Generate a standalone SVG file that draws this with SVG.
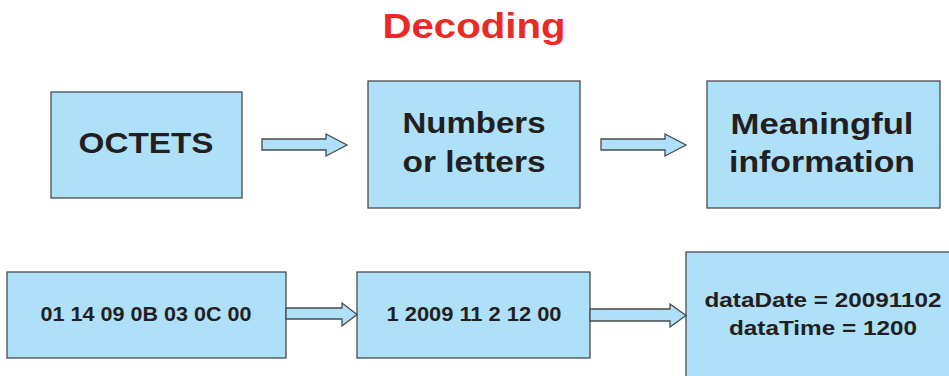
<svg xmlns="http://www.w3.org/2000/svg" width="949" height="376" viewBox="0 0 949 376">
<style>
.box{fill:#aee0f9;stroke:#4a4a4a;stroke-width:1.3}
.arr{fill:#aee0f9;stroke:#4a4a4a;stroke-width:1.3;stroke-linejoin:miter}
.t{font-family:"Liberation Sans",Arial,sans-serif;font-weight:bold;fill:#231f20;text-anchor:middle}
.big{font-size:30px}
.sm{font-size:21px}
.title{font-family:"Liberation Sans",Arial,sans-serif;font-weight:bold;font-size:35px;fill:#ea2a26;text-anchor:middle}
</style>
<rect width="949" height="376" fill="#ffffff"/>
<text class="title" x="474" y="38" textLength="183" lengthAdjust="spacingAndGlyphs">Decoding</text>
<g id="octets">
<rect class="box" x="51" y="92" width="191" height="106"/>
<text class="t big" x="146" y="153" textLength="135" lengthAdjust="spacingAndGlyphs">OCTETS</text>
</g>
<g id="numbers">
<rect class="box" x="368" y="81" width="212" height="127"/>
<text class="t big" x="474" y="133" textLength="143" lengthAdjust="spacingAndGlyphs">Numbers</text>
<text class="t big" x="474" y="172" textLength="143" lengthAdjust="spacingAndGlyphs">or letters</text>
</g>
<g id="meaningful">
<rect class="box" x="707" y="81" width="233" height="127"/>
<text class="t big" x="822" y="134" textLength="183" lengthAdjust="spacingAndGlyphs">Meaningful</text>
<text class="t big" x="822" y="172" textLength="186" lengthAdjust="spacingAndGlyphs">information</text>
</g>
<g id="hex">
<rect class="box" x="7" y="272" width="279" height="86"/>
<text class="t sm" x="146" y="321" textLength="211" lengthAdjust="spacingAndGlyphs">01 14 09 0B 03 0C 00</text>
</g>
<g id="values">
<rect class="box" x="357" y="272" width="233" height="86"/>
<text class="t sm" x="474" y="321" textLength="175" lengthAdjust="spacingAndGlyphs">1 2009 11 2 12 00</text>
</g>
<g id="data">
<rect class="box" x="686" y="252" width="280" height="140"/>
<text class="t sm" x="823" y="307" textLength="237" lengthAdjust="spacingAndGlyphs">dataDate = 20091102</text>
<text class="t sm" x="823" y="335" textLength="188" lengthAdjust="spacingAndGlyphs">dataTime = 1200</text>
</g>
<g id="connectors">
<polygon class="arr" points="262,139 326,139 326,134 347,145 326,156 326,150 262,150"/>
<polygon class="arr" points="601,139 665,139 665,134 686,145 665,156 665,150 601,150"/>
<polygon class="arr" points="286,308 342,308 342,303 357,314.5 342,326 342,319 286,319"/>
<polygon class="arr" points="590,309 670,309 670,304 686,315.5 670,327 670,321 590,321"/>
</g>
</svg>
